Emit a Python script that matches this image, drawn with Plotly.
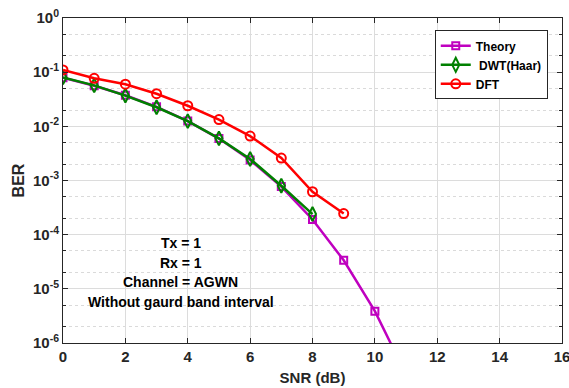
import plotly.graph_objects as go

# SNR points (dB)
snr_theory = [0, 1, 2, 3, 4, 5, 6, 7, 8, 9, 10, 11]
snr_dwt = [0, 1, 2, 3, 4, 5, 6, 7, 8]
snr_dft = [0, 1, 2, 3, 4, 5, 6, 7, 8, 9]

# Bit error rates
ber_theory = [7.86e-2, 5.63e-2, 3.75e-2, 2.29e-2, 1.25e-2, 5.95e-3, 2.39e-3,
              7.73e-4, 1.91e-4, 3.36e-5, 3.87e-6, 2.61e-7]
ber_dwt = [8.0e-2, 5.7e-2, 3.7e-2, 2.25e-2, 1.25e-2, 6.0e-3, 2.5e-3, 8.0e-4, 2.4e-4]
ber_dft = [1.1e-1, 7.7e-2, 6.0e-2, 4.0e-2, 2.4e-2, 1.33e-2, 6.6e-3, 2.6e-3, 6.2e-4, 2.45e-4]

x_ticks = [0, 2, 4, 6, 8, 10, 12, 14, 16]
y_ticks = [1e-6, 1e-5, 1e-4, 1e-3, 1e-2, 1e-1, 1e0]
y_ticktext = ["10<sup>-6</sup>", "10<sup>-5</sup>", "10<sup>-4</sup>", "10<sup>-3</sup>",
              "10<sup>-2</sup>", "10<sup>-1</sup>", "10<sup>0</sup>"]

notes = ["Tx = 1", "Rx = 1", "Channel = AGWN", "Without gaurd band interval"]

FONT = "Arial, Liberation Sans, sans-serif"
TXT = "#262626"

fig = go.Figure()
fig.add_trace(go.Scatter(
    x=snr_theory, y=ber_theory, name="Theory", mode="lines+markers",
    line=dict(color="#BF00BF", width=2.5),
    marker=dict(symbol="square-open", size=7, color="#BF00BF", line=dict(width=2))))
fig.add_trace(go.Scatter(
    x=snr_dwt, y=ber_dwt, name=" DWT(Haar)", mode="lines+markers",
    line=dict(color="#008000", width=2.5),
    marker=dict(symbol="diamond-tall-open", size=10, color="#008000", line=dict(width=2))))
fig.add_trace(go.Scatter(
    x=snr_dft, y=ber_dft, name="DFT", mode="lines+markers",
    line=dict(color="#FF0000", width=2.5),
    marker=dict(symbol="circle-open", size=9, color="#FF0000", line=dict(width=2))))

for i, t in enumerate(notes):
    fig.add_annotation(x=3.78, y=-4.16 - 0.36 * i, xref="x", yref="y", text=t,
                       showarrow=False,
                       font=dict(family=FONT, size=14, color="black", weight="bold"))

tick_font = dict(family=FONT, size=15, color=TXT, weight="bold")

fig.update_xaxes(
    range=[0, 16], tickvals=x_ticks, ticks="inside", ticklen=5, tickcolor=TXT,
    showline=True, linecolor=TXT, linewidth=1, mirror="ticks",
    showgrid=True, gridcolor="#DCDCDC", gridwidth=1, zeroline=False,
    ticklabeloverflow="allow", automargin=False,
    tickfont=tick_font,
    title=dict(text="SNR (dB)", font=dict(family=FONT, size=15, color=TXT, weight="bold"),
               standoff=8))
fig.update_yaxes(
    type="log", range=[-6, 0], tickvals=y_ticks, ticktext=y_ticktext,
    ticks="inside", ticklen=5, tickcolor=TXT,
    showline=True, linecolor=TXT, linewidth=1, mirror="ticks",
    showgrid=True, gridcolor="#DCDCDC", gridwidth=1, zeroline=False,
    minor=dict(ticks="inside", ticklen=3, tickcolor=TXT, showgrid=True,
               gridcolor="#DADADA", griddash="dot", gridwidth=1),
    ticklabeloverflow="allow", automargin=False,
    tickfont=tick_font,
    title=dict(text="BER", font=dict(family=FONT, size=16, color=TXT, weight="bold"),
               standoff=4))

fig.update_layout(
    width=569, height=388,
    margin=dict(l=63, r=7, t=18, b=45),
    paper_bgcolor="white", plot_bgcolor="white",
    showlegend=True,
    legend=dict(x=0.745, y=0.962, xanchor="left", yanchor="top",
                bgcolor="white", bordercolor="#262626", borderwidth=1,
                font=dict(family=FONT, size=12, color="black", weight="bold"),
                itemwidth=30, tracegroupgap=0),
)

fig.write_html("out.html")
